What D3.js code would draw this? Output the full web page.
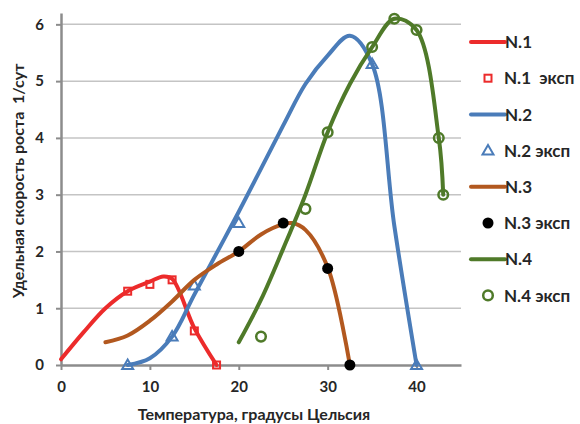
<!DOCTYPE html>
<html>
<head>
<meta charset="utf-8">
<script src="https://cdn.jsdelivr.net/npm/d3@7"></script>
<style>
  html, body { margin: 0; padding: 0; background: #fff; }
  svg { display: block; font-family: Lato, "Open Sans", sans-serif; font-weight: bold; }
</style>
</head>
<body>
<div id="chart"></div>
<script>
// model curves (temperature, rate)
const n1Temp = [0, 2.5, 5, 7.5, 10, 11.5, 12.5, 15, 17.5];
const n1Rate = [0.1, 0.57, 1.0, 1.3, 1.47, 1.56, 1.52, 0.65, 0];
const n2Temp = [7.5, 10, 12.5, 15, 20, 25, 27.5, 30, 32.5, 35, 37.5, 40];
const n2Rate = [0, 0.12, 0.5, 1.24, 2.7, 4.22, 4.95, 5.45, 5.8, 5.3, 2.45, 0];
const n3Temp = [5, 7.5, 10, 12.5, 15, 17.5, 20, 22.5, 25, 26, 27.5, 30, 32.5];
const n3Rate = [0.4, 0.52, 0.78, 1.12, 1.5, 1.77, 2.0, 2.3, 2.48, 2.5, 2.38, 1.72, 0];
const n4Temp = [20, 22.5, 25, 27.5, 30, 32.5, 35, 37.5, 40, 42.5, 43];
const n4Rate = [0.4, 1.15, 2.05, 3.0, 4.1, 4.95, 5.6, 6.1, 5.9, 4.0, 3.0];

// experimental points
const e1Temp = [7.5, 10, 12.5, 15, 17.5];
const e1Rate = [1.3, 1.42, 1.5, 0.6, 0];
const e2Temp = [7.5, 12.5, 15, 20, 35, 40];
const e2Rate = [0, 0.5, 1.4, 2.5, 5.3, 0];
const e3Temp = [20, 25, 30, 32.5];
const e3Rate = [2.0, 2.5, 1.7, 0];
const e4Temp = [22.5, 27.5, 30, 35, 37.5, 40, 42.5, 43];
const e4Rate = [0.5, 2.75, 4.1, 5.6, 6.1, 5.9, 4.0, 3.0];

const xTicks = [0, 10, 20, 30, 40];
const yTicks = [0, 1, 2, 3, 4, 5, 6];
const legendLabels = ['N.1', 'N.1  эксп', 'N.2', 'N.2 эксп', 'N.3', 'N.3 эксп', 'N.4', 'N.4 эксп'];

const RED = '#ec2b2b', BLUE = '#4a7cb9', BROWN = '#b2581f', GREEN = '#4f7a29';

const zip = (xs, ys) => xs.map((x, i) => ({ x, y: ys[i] }));

const series = [
  { type: 'line', color: RED, data: zip(n1Temp, n1Rate) },
  { type: 'square', color: RED, data: zip(e1Temp, e1Rate) },
  { type: 'line', color: BLUE, data: zip(n2Temp, n2Rate) },
  { type: 'triangle', color: BLUE, data: zip(e2Temp, e2Rate) },
  { type: 'line', color: BROWN, data: zip(n3Temp, n3Rate) },
  { type: 'dot', color: '#000', data: zip(e3Temp, e3Rate) },
  { type: 'line', color: GREEN, data: zip(n4Temp, n4Rate) },
  { type: 'ring', color: GREEN, data: zip(e4Temp, e4Rate) },
];

const width = 580, height = 424;
const svg = d3.select('#chart').append('svg')
  .attr('width', width)
  .attr('height', height);

const x = d3.scaleLinear().domain([0, 45]).range([61, 461]);
const y = d3.scaleLinear().domain([0, 6.2]).range([365, 13]);

// gridlines
svg.append('g')
  .selectAll('line')
  .data(yTicks.filter(t => t > 0))
  .enter()
  .append('line')
  .attr('x1', x(0))
  .attr('x2', x(45))
  .attr('y1', d => y(d))
  .attr('y2', d => y(d))
  .attr('stroke', '#c4c4c4')
  .attr('stroke-width', 1.5);

const xAxis = svg.append('g')
  .attr('transform', `translate(0,${y(0)})`)
  .call(d3.axisBottom(x).tickValues(xTicks).tickFormat(d3.format('d'))
    .tickSize(5).tickPadding(11).tickSizeOuter(0));
const yAxis = svg.append('g')
  .attr('transform', `translate(${x(0)},0)`)
  .call(d3.axisLeft(y).tickValues(yTicks).tickFormat(d3.format('d'))
    .tickSize(5).tickPadding(12).tickSizeOuter(0));

for (const ax of [xAxis, yAxis]) {
  ax.select('.domain').attr('stroke', '#8c8c8c').attr('stroke-width', 2.5);
  ax.selectAll('.tick line').attr('stroke', '#8c8c8c').attr('stroke-width', 2);
  ax.selectAll('.tick text')
    .attr('fill', '#262626')
    .style('font-family', 'Lato, sans-serif')
    .style('font-weight', 'bold')
    .style('font-size', '15px');
}

// axis titles
svg.append('text')
  .attr('x', 254)
  .attr('y', 420)
  .attr('text-anchor', 'middle')
  .attr('fill', '#262626')
  .style('font-size', '16px')
  .text('Температура, градусы Цельсия');

svg.append('text')
  .attr('transform', 'translate(24,181) rotate(-90)')
  .attr('text-anchor', 'middle')
  .attr('fill', '#262626')
  .style('font-size', '16px')
  .style('white-space', 'pre')
  .text('Удельная скорость роста  1/сут');

const line = d3.line()
  .x(d => x(d.x))
  .y(d => y(d.y))
  .curve(d3.curveCatmullRom.alpha(0.5));

function drawMarker(sel, type, color) {
  if (type === 'square') {
    sel.append('rect')
      .attr('x', -3.5).attr('y', -3.5)
      .attr('width', 7).attr('height', 7)
      .attr('fill', 'none')
      .attr('stroke', color)
      .attr('stroke-width', 2);
  } else if (type === 'triangle') {
    sel.append('path')
      .attr('d', 'M0,-5.5L5.5,4L-5.5,4Z')
      .attr('fill', 'none')
      .attr('stroke', color)
      .attr('stroke-width', 2);
  } else if (type === 'dot') {
    sel.append('circle')
      .attr('r', 5.5)
      .attr('fill', color);
  } else if (type === 'ring') {
    sel.append('circle')
      .attr('r', 4.8)
      .attr('fill', 'none')
      .attr('stroke', color)
      .attr('stroke-width', 2.5);
  }
}

const plot = svg.append('g');
for (const s of series) {
  if (s.type === 'line') {
    plot.append('path')
      .datum(s.data)
      .attr('fill', 'none')
      .attr('stroke', s.color)
      .attr('stroke-width', 4)
      .attr('stroke-linecap', 'round')
      .attr('stroke-linejoin', 'round')
      .attr('d', line);
  } else {
    plot.append('g')
      .selectAll('g')
      .data(s.data)
      .enter()
      .append('g')
      .attr('transform', d => `translate(${x(d.x)},${y(d.y)})`)
      .each(function () { drawMarker(d3.select(this), s.type, s.color); });
  }
}

// legend
const legend = svg.append('g');
series.forEach((s, i) => {
  const ly = 42 + i * 36.2;
  const item = legend.append('g').attr('transform', `translate(0,${ly})`);
  if (s.type === 'line') {
    item.append('line')
      .attr('x1', 471).attr('x2', 505)
      .attr('stroke', s.color)
      .attr('stroke-width', 4)
      .attr('stroke-linecap', 'round');
    item.append('text')
      .attr('x', 505)
      .attr('dy', '0.36em')
      .attr('fill', '#262626')
      .style('font-size', '17px')
      .text(legendLabels[i]);
  } else {
    const m = item.append('g').attr('transform', 'translate(488,0)');
    drawMarker(m, s.type, s.color);
    item.append('text')
      .attr('x', 504)
      .attr('dy', '0.36em')
      .attr('fill', '#262626')
      .style('font-size', '17px')
      .style('white-space', 'pre')
      .text(legendLabels[i]);
  }
});
</script>
</body>
</html>
